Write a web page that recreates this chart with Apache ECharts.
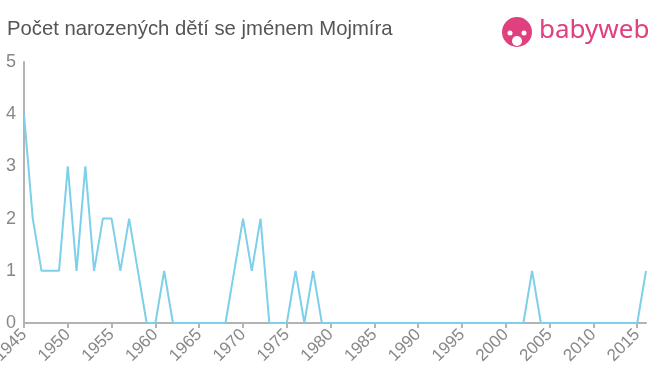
<!DOCTYPE html>
<html><head><meta charset="utf-8">
<script src="https://cdn.jsdelivr.net/npm/echarts@6/dist/echarts.min.js"></script>
<style>html,body{margin:0;padding:0;background:#fff}#c{width:660px;height:375px}</style>
</head><body><div id="c"></div>
<script>
const years = [1945,1946,1947,1948,1949,1950,1951,1952,1953,1954,1955,1956,1957,1958,1959,1960,1961,1962,1963,1964,1965,1966,1967,1968,1969,1970,1971,1972,1973,1974,1975,1976,1977,1978,1979,1980,1981,1982,1983,1984,1985,1986,1987,1988,1989,1990,1991,1992,1993,1994,1995,1996,1997,1998,1999,2000,2001,2002,2003,2004,2005,2006,2007,2008,2009,2010,2011,2012,2013,2014,2015,2016];
const counts = [4,2,1,1,1,3,1,3,1,2,2,1,2,1,0,0,1,0,0,0,0,0,0,0,1,2,1,2,0,0,0,1,0,1,0,0,0,0,0,0,0,0,0,0,0,0,0,0,0,0,0,0,0,0,0,0,0,0,1,0,0,0,0,0,0,0,0,0,0,0,0,1];
const titleText = "Počet narozených dětí se jménem Mojmíra";
const logoText = "babyweb";
const FONT = '"Liberation Sans", Arial, Helvetica, sans-serif';

const chart = echarts.init(document.getElementById('c'));
chart.setOption({
  animation: false,
  title: {text: titleText, left: 2, top: 14, textStyle: {fontFamily: FONT, fontSize: 20.3, fontWeight: 'normal', color: '#555'}},
  graphic: [
    {type: 'circle', shape: {cx: 517, cy: 32, r: 15}, style: {fill: '#e0407e'}},
    {type: 'circle', shape: {cx: 517, cy: 41, r: 5}, style: {fill: '#fff'}},
    {type: 'circle', shape: {cx: 510, cy: 33, r: 2.5}, style: {fill: '#fff'}},
    {type: 'circle', shape: {cx: 524, cy: 33, r: 2.5}, style: {fill: '#fff'}},
    {type: 'text', left: 539, top: 18, style: {text: logoText, fill: '#e0407e', font: '26px "Noto Sans", Arial, sans-serif'}}
  ],
  grid: {left: 24, right: 14, top: 62, bottom: 52, containLabel: false, outerBoundsMode: 'none'},
  xAxis: {
    type: 'value', min: 1945, max: 2016, interval: 5,
    axisLine: {lineStyle: {color: '#b3b3b3', width: 2}},
    axisTick: {show: true, length: 5, lineStyle: {color: '#b3b3b3', width: 2}},
    splitLine: {show: false},
    axisLabel: {rotate: 45, color: '#888', fontSize: 17, fontFamily: FONT, margin: 9, showMaxLabel: false, hideOverlap: false,
      formatter: v => String(v)}
  },
  yAxis: {
    type: 'value', min: 0, max: 5, interval: 1,
    axisLine: {show: true, lineStyle: {color: '#b3b3b3', width: 2}},
    axisTick: {show: false},
    splitLine: {show: false},
    axisLabel: {color: '#888', fontSize: 18, fontFamily: FONT, margin: 8}
  },
  series: [{
    type: 'line', data: years.map((y, i) => [y, counts[i]]),
    showSymbol: false, symbol: 'none',
    lineStyle: {color: '#7ecfea', width: 2}
  }]
});
</script></body></html>
